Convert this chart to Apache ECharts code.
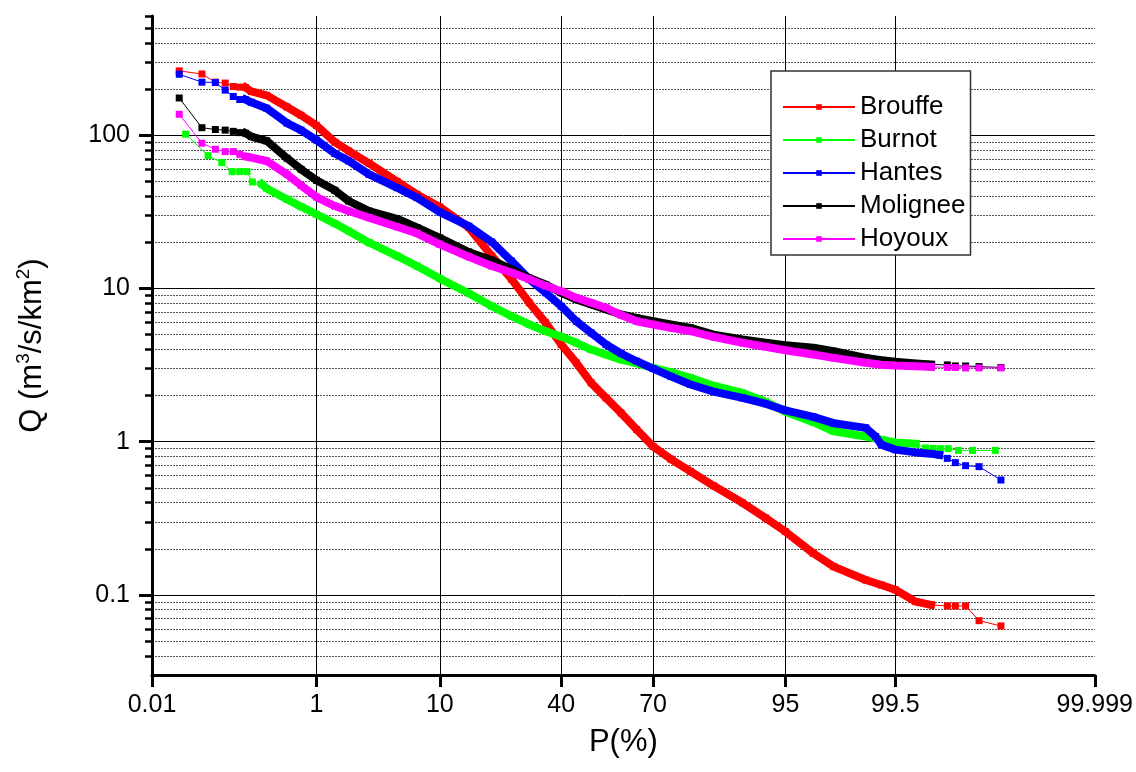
<!DOCTYPE html>
<html>
<head>
<meta charset="utf-8">
<script src="https://cdn.jsdelivr.net/npm/echarts@6/dist/echarts.min.js"></script>
<style>
  html, body { margin: 0; padding: 0; background: #fff; }
  #main { width: 1136px; height: 772px; }
</style>
</head>
<body>
<div id="main"></div>
<script>
// exceedance probability (%) and specific discharge Q (m3/s/km2)
var brouffe = [
  [0.0243, 263], [0.049, 251], [0.073, 222], [0.097, 219], [0.122, 208], [0.146, 206], [0.171, 205],
  [0.2, 193], [0.3, 182], [0.5, 153], [0.7, 135], [1, 116], [1.5, 90], [2, 78.9], [3, 65.5], [5, 50],
  [7, 41.1], [10, 34], [15, 25], [20, 16.3], [25, 11.5], [30, 8.07], [35, 5.97], [40, 4.31], [45, 3.27],
  [50, 2.42], [55, 1.93], [60, 1.54], [65, 1.2], [70, 0.93], [75, 0.77], [80, 0.64], [85, 0.515],
  [90, 0.399], [93, 0.318], [95, 0.259], [97, 0.187], [98, 0.153], [99, 0.125], [99.3, 0.116],
  [99.5, 0.108], [99.7, 0.0904], [99.8, 0.0861],
  [99.872, 0.0847], [99.898, 0.0847], [99.924, 0.0847], [99.949, 0.0679], [99.974, 0.0627]
];
var burnot = [
  [0.0297, 101.6], [0.059, 73.6], [0.088, 66.3], [0.118, 57.9], [0.146, 57.9], [0.178, 57.9], [0.206, 49.5], [0.264, 47.9],
  [0.3, 44.9], [0.5, 38.2], [0.7, 34.2], [1, 30.5], [1.5, 26.5], [2, 23.7], [3, 19.9], [5, 16.3], [7, 14.0],
  [10, 11.6], [15, 9.3], [20, 7.66], [25, 6.59], [30, 5.82], [35, 5.26], [40, 4.85], [45, 4.42], [50, 3.99],
  [55, 3.7], [60, 3.43], [65, 3.24], [70, 3.03], [75, 2.84], [80, 2.61], [85, 2.32], [90, 2.08], [93, 1.83],
  [95, 1.57], [97, 1.34], [98, 1.17], [99, 1.08], [99.3, 1.03], [99.5, 0.989], [99.7, 0.97],
  [99.768, 0.91], [99.811, 0.904], [99.845, 0.9], [99.875, 0.9], [99.9065, 0.877], [99.938, 0.877], [99.969, 0.877]
];
var hantes = [
  [0.0243, 250], [0.049, 222], [0.073, 221], [0.097, 197], [0.122, 179], [0.146, 171], [0.171, 171],
  [0.2, 164], [0.3, 150], [0.5, 120], [0.7, 108], [1, 93], [1.5, 76], [2, 68], [3, 55.5], [5, 45.5],
  [7, 39.2], [10, 31.5], [15, 25.5], [20, 20.1], [25, 15.1], [30, 11.5], [35, 9.37], [40, 7.66], [45, 6.11],
  [50, 5.13], [55, 4.31], [60, 3.76], [65, 3.35], [70, 3.0], [75, 2.67], [80, 2.36], [85, 2.12], [90, 1.93],
  [93, 1.77], [95, 1.6], [97, 1.45], [98, 1.32], [99, 1.23], [99.2, 1.08], [99.3, 0.955], [99.5, 0.887],
  [99.7, 0.851], [99.8, 0.835], [99.84, 0.819],
  [99.872, 0.778], [99.898, 0.73], [99.924, 0.697], [99.949, 0.687], [99.974, 0.562]
];
var molignee = [
  [0.0243, 175], [0.049, 112], [0.073, 109], [0.097, 108], [0.122, 106], [0.146, 104], [0.171, 103],
  [0.2, 98], [0.3, 92], [0.5, 70.8], [0.7, 60], [1, 50.8], [1.5, 43.7], [2, 37.2], [3, 32], [5, 28.5],
  [7, 25], [10, 21.4], [15, 17.3], [20, 15.3], [25, 13.3], [30, 11.7], [35, 10.6], [40, 9.37], [45, 8.47],
  [50, 7.85], [55, 7.3], [60, 6.76], [65, 6.43], [70, 6.11], [75, 5.82], [80, 5.53], [85, 5.0], [90, 4.64],
  [93, 4.42], [95, 4.26], [97, 4.1], [98, 3.89], [99, 3.52], [99.3, 3.4], [99.5, 3.32], [99.7, 3.24], [99.8, 3.19],
  [99.872, 3.17], [99.898, 3.12], [99.924, 3.12], [99.949, 3.09], [99.974, 3.05]
];
var hoyoux = [
  [0.0243, 137], [0.049, 88.7], [0.073, 81], [0.097, 78.2], [0.122, 78.2], [0.146, 75.1], [0.171, 72.6],
  [0.2, 71.5], [0.3, 67.9], [0.5, 55.6], [0.7, 47.1], [1, 39.5], [1.5, 34.5], [2, 32], [3, 29], [5, 25.3],
  [7, 22.9], [10, 19.4], [15, 16.1], [20, 14], [25, 12.7], [30, 11.5], [35, 10.4], [40, 9.6], [45, 8.69],
  [50, 8.07], [55, 7.48], [60, 6.7], [65, 6.11], [70, 5.82], [75, 5.53], [80, 5.26], [85, 4.83], [90, 4.42],
  [93, 4.16], [95, 3.95], [97, 3.71], [98, 3.52], [99, 3.27], [99.3, 3.18], [99.5, 3.14], [99.7, 3.11], [99.8, 3.08],
  [99.872, 3.05], [99.898, 3.05], [99.924, 3.03], [99.949, 3.03], [99.974, 3.03]
];

var seriesNames = ['Brouffe', 'Burnot', 'Hantes', 'Molignee', 'Hoyoux'];
var seriesColors = ['#ff0000', '#00ff00', '#0000ff', '#000000', '#ff00ff'];
var seriesData = [brouffe, burnot, hantes, molignee, hoyoux];
// number of isolated markers at the start and end of each curve (the rest is a dense band)
var sparseStart = [7, 8, 7, 7, 7];
var sparseEnd = [5, 7, 5, 5, 5];

var xTicks = [0.01, 1, 10, 40, 70, 95, 99.5, 99.999];
var xTickLabels = ['0.01', '1', '10', '40', '70', '95', '99.5', '99.999'];
var yMajor = [0.1, 1, 10, 100];
var yMinor = [0.04, 0.05, 0.06, 0.07, 0.08, 0.09,
  0.2, 0.3, 0.4, 0.5, 0.6, 0.7, 0.8, 0.9,
  2, 3, 4, 5, 6, 7, 8, 9,
  20, 30, 40, 50, 60, 70, 80, 90,
  200, 300, 400, 500, 600];

// inverse standard normal CDF (Acklam)
function probit(p) {
  var a = [-3.969683028665376e+01, 2.209460984245205e+02, -2.759285104469687e+02, 1.383577518672690e+02, -3.066479806614716e+01, 2.506628277459239e+00];
  var b = [-5.447609879822406e+01, 1.615858368580409e+02, -1.556989798598866e+02, 6.680131188771972e+01, -1.328068155288572e+01];
  var c = [-7.784894002430293e-03, -3.223964580411365e-01, -2.400758277161838e+00, -2.549671348451071e+00, 4.374664141464968e+00, 2.938163982698783e+00];
  var d = [7.784695709041462e-03, 3.224671290700398e-01, 2.445134137142996e+00, 3.754408661907416e+00];
  var pl = 0.02425, q, r;
  if (p < pl) {
    q = Math.sqrt(-2 * Math.log(p));
    return (((((c[0] * q + c[1]) * q + c[2]) * q + c[3]) * q + c[4]) * q + c[5]) / ((((d[0] * q + d[1]) * q + d[2]) * q + d[3]) * q + 1);
  }
  if (p > 1 - pl) {
    q = Math.sqrt(-2 * Math.log(1 - p));
    return -(((((c[0] * q + c[1]) * q + c[2]) * q + c[3]) * q + c[4]) * q + c[5]) / ((((d[0] * q + d[1]) * q + d[2]) * q + d[3]) * q + 1);
  }
  q = p - 0.5;
  r = q * q;
  return (((((a[0] * r + a[1]) * r + a[2]) * r + a[3]) * r + a[4]) * r + a[5]) * q / (((((b[0] * r + b[1]) * r + b[2]) * r + b[3]) * r + b[4]) * r + 1);
}
function px(P) { return probit(P / 100); }

var xTickPos = xTicks.map(px);
var font = 'Liberation Sans, Arial, sans-serif';

var series = [];
seriesData.forEach(function (d, i) {
  var pts = d.map(function (p) { return [px(p[0]), p[1]]; });
  series.push({
    name: seriesNames[i] + ' band',
    type: 'line',
    data: pts.slice(sparseStart[i] - 1, pts.length - sparseEnd[i]),
    symbol: 'none',
    silent: true,
    lineStyle: { color: seriesColors[i], width: 8, join: 'round', cap: 'square' },
    z: 2 + i
  });
  series.push({
    name: seriesNames[i],
    type: 'line',
    data: pts,
    symbol: 'rect',
    symbolSize: 7,
    itemStyle: { color: seriesColors[i] },
    lineStyle: { color: seriesColors[i], width: 1 },
    z: 2 + i
  });
});

var chart = echarts.init(document.getElementById('main'));
chart.setOption({
  animation: false,
  backgroundColor: '#fff',
  textStyle: { fontFamily: font },
  grid: { left: 152, right: 39, top: 16, bottom: 97, containLabel: false },
  legend: {
    data: seriesNames,
    orient: 'vertical',
    left: 771,
    top: 71,
    padding: [23, 5, 3, 11],
    itemWidth: 72,
    itemHeight: 7,
    itemGap: 7,
    borderColor: '#333',
    borderWidth: 1.5,
    backgroundColor: '#fff',
    textStyle: { fontFamily: font, fontSize: 26, lineHeight: 26, color: '#000' }
  },
  xAxis: {
    type: 'value',
    min: px(0.01),
    max: px(99.999),
    name: 'P(%)',
    nameLocation: 'middle',
    nameGap: 52,
    nameTextStyle: { fontFamily: font, fontSize: 31, color: '#000' },
    axisLine: { onZero: false, lineStyle: { color: '#000', width: 3 } },
    axisTick: { customValues: xTickPos, length: 12, lineStyle: { color: '#000', width: 3 } },
    axisLabel: {
      customValues: xTickPos,
      margin: 18,
      fontFamily: font,
      fontSize: 25,
      color: '#000',
      formatter: function (v) {
        var best = 0;
        for (var k = 1; k < xTickPos.length; k++) {
          if (Math.abs(xTickPos[k] - v) < Math.abs(xTickPos[best] - v)) best = k;
        }
        return xTickLabels[best];
      }
    },
    splitLine: { show: true, showMinLine: false, showMaxLine: false, lineStyle: { color: '#000', width: 1 } }
  },
  yAxis: [{
    type: 'log',
    logBase: 10,
    min: 0.03,
    max: 600,
    name: 'Q (m{sup|3}/s/km{sup|2})',
    nameLocation: 'middle',
    nameGap: 102,
    nameTextStyle: {
      fontFamily: font, fontSize: 31, lineHeight: 36, color: '#000',
      rich: { sup: { fontFamily: font, fontSize: 19, lineHeight: 19, verticalAlign: 'top', color: '#000' } }
    },
    axisLine: { show: true, onZero: false, lineStyle: { color: '#000', width: 3 } },
    axisTick: { customValues: yMajor, length: 13, lineStyle: { color: '#000', width: 3 } },
    axisLabel: {
      customValues: yMajor,
      margin: 22,
      fontFamily: font,
      fontSize: 25,
      color: '#000',
      formatter: function (v) { return String(+Number(v).toPrecision(3)); }
    },
    splitLine: { show: true, lineStyle: { color: '#000', width: 1 } }
  }, {
    type: 'log',
    logBase: 10,
    min: 0.03,
    max: 600,
    position: 'left',
    axisLine: { show: false, onZero: false },
    axisTick: { show: true, customValues: yMinor, length: 7, lineStyle: { color: '#000', width: 2.5 } },
    axisLabel: { show: false },
    splitLine: { show: true, showMaxLine: false, lineStyle: { color: '#555', width: 1, type: [2, 1] } }
  }],
  series: series
});
</script>
</body>
</html>
